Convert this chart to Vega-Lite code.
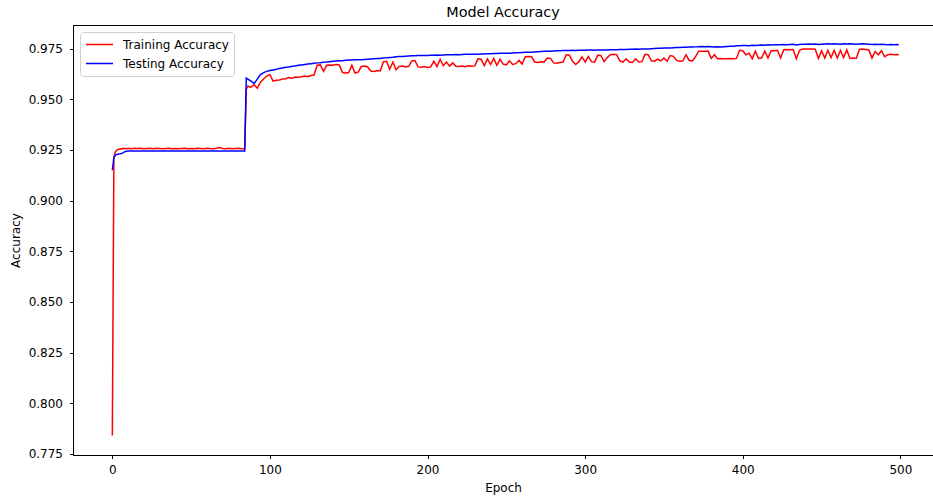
{
  "$schema": "https://vega.github.io/schema/vega-lite/v6.json",
  "autosize": "none",
  "padding": {"left": 73, "top": 25, "right": 0, "bottom": 45},
  "width": 860,
  "height": 430,
  "title": {"text": "Model Accuracy", "fontSize": 14.4, "fontWeight": "normal", "font": "DejaVu Sans", "color": "#000", "offset": 5, "anchor": "middle"},
  "config": {
    "view": {"stroke": "#000", "strokeWidth": 1},
    "font": "DejaVu Sans",
    "axis": {"grid": false, "domainColor": "#000", "tickColor": "#000", "tickSize": 3.5, "labelFontSize": 12, "labelColor": "#000", "titleFontSize": 12, "titleFontWeight": "normal", "titleColor": "#000", "labelFont": "DejaVu Sans", "titleFont": "DejaVu Sans"}
  },
  "data": {"values": [
    {"e":0,"tr":0.784,"te":0.915},{"e":1,"tr":0.9215,"te":0.9212},{"e":2,"tr":0.9242,"te":0.9225},{"e":3,"tr":0.925,"te":0.9228},{"e":4,"tr":0.9253,"te":0.923},{"e":5,"tr":0.9256,"te":0.9231},{"e":6,"tr":0.9255,"te":0.9233},{"e":7,"tr":0.9258,"te":0.9237},{"e":8,"tr":0.9257,"te":0.9242},{"e":9,"tr":0.9256,"te":0.9244},{"e":10,"tr":0.9258,"te":0.9245},
    {"e":12,"tr":0.9256,"te":0.9245},{"e":14,"tr":0.9258,"te":0.9245},{"e":16,"tr":0.9257,"te":0.9245},{"e":18,"tr":0.9259,"te":0.9245},{"e":20,"tr":0.9256,"te":0.9245},{"e":22,"tr":0.9257,"te":0.9245},{"e":24,"tr":0.9258,"te":0.9245},{"e":26,"tr":0.9256,"te":0.9245},{"e":28,"tr":0.9258,"te":0.9245},{"e":30,"tr":0.9257,"te":0.9245},{"e":32,"tr":0.9256,"te":0.9245},{"e":34,"tr":0.9257,"te":0.9245},{"e":36,"tr":0.9258,"te":0.9245},{"e":38,"tr":0.9256,"te":0.9245},{"e":40,"tr":0.9257,"te":0.9245},{"e":42,"tr":0.9256,"te":0.9245},{"e":44,"tr":0.9257,"te":0.9245},{"e":46,"tr":0.9258,"te":0.9245},{"e":48,"tr":0.9256,"te":0.9245},{"e":50,"tr":0.9257,"te":0.9245},{"e":52,"tr":0.9256,"te":0.9245},{"e":54,"tr":0.9258,"te":0.9245},{"e":56,"tr":0.9257,"te":0.9245},{"e":58,"tr":0.9256,"te":0.9245},{"e":60,"tr":0.9259,"te":0.9245},{"e":62,"tr":0.9257,"te":0.9245},{"e":64,"tr":0.9256,"te":0.9245},{"e":66,"tr":0.9258,"te":0.9245},{"e":68,"tr":0.9262,"te":0.9245},{"e":70,"tr":0.9257,"te":0.9245},{"e":72,"tr":0.9256,"te":0.9245},{"e":74,"tr":0.9258,"te":0.9245},{"e":76,"tr":0.9256,"te":0.9245},{"e":78,"tr":0.9257,"te":0.9245},{"e":80,"tr":0.9258,"te":0.9245},{"e":82,"tr":0.9256,"te":0.9245},{"e":84,"tr":0.9257,"te":0.9245},{"e":85,"tr":0.955,"te":0.9605},
    {"e":86,"tr":0.9565,"te":0.96},{"e":88,"tr":0.956,"te":0.959},{"e":90,"tr":0.9572,"te":0.9578},{"e":92,"tr":0.9555,"te":0.96},{"e":94,"tr":0.9585,"te":0.9622},{"e":96,"tr":0.96,"te":0.9632},{"e":98,"tr":0.9615,"te":0.9638},{"e":100,"tr":0.9622,"te":0.9642},
    {"e":102,"tr":0.959,"te":0.9645},{"e":104,"tr":0.9594,"te":0.9648},{"e":106,"tr":0.9596,"te":0.9652},{"e":108,"tr":0.96,"te":0.9655},{"e":110,"tr":0.9602,"te":0.9658},{"e":112,"tr":0.9608,"te":0.966},{"e":114,"tr":0.9604,"te":0.9663},{"e":116,"tr":0.961,"te":0.9665},{"e":118,"tr":0.9609,"te":0.9668},{"e":120,"tr":0.9612,"te":0.967},
    {"e":122,"tr":0.9615,"te":0.9672},{"e":124,"tr":0.9612,"te":0.9674},{"e":126,"tr":0.9618,"te":0.9676},{"e":128,"tr":0.962,"te":0.9678},{"e":130,"tr":0.9668,"te":0.968},{"e":132,"tr":0.967,"te":0.9681},{"e":134,"tr":0.9638,"te":0.9683},{"e":136,"tr":0.9668,"te":0.9684},{"e":138,"tr":0.967,"te":0.9686},{"e":140,"tr":0.9668,"te":0.9688},
    {"e":142,"tr":0.9672,"te":0.9689},{"e":144,"tr":0.967,"te":0.969},{"e":146,"tr":0.9632,"te":0.9691},{"e":148,"tr":0.963,"te":0.9693},{"e":150,"tr":0.9632,"te":0.9694},{"e":152,"tr":0.9668,"te":0.9694},{"e":154,"tr":0.963,"te":0.9695},{"e":156,"tr":0.9634,"te":0.9696},{"e":158,"tr":0.9662,"te":0.9696},{"e":160,"tr":0.9664,"te":0.9697},
    {"e":162,"tr":0.966,"te":0.9698},{"e":164,"tr":0.964,"te":0.9699},{"e":166,"tr":0.9638,"te":0.97},{"e":168,"tr":0.9642,"te":0.9701},{"e":170,"tr":0.964,"te":0.9702},{"e":172,"tr":0.9686,"te":0.9704},{"e":174,"tr":0.9688,"te":0.9705},{"e":176,"tr":0.9648,"te":0.9707},{"e":178,"tr":0.9684,"te":0.9708},{"e":180,"tr":0.9646,"te":0.971},
    {"e":182,"tr":0.9662,"te":0.9711},{"e":184,"tr":0.9664,"te":0.9712},{"e":186,"tr":0.966,"te":0.9713},{"e":188,"tr":0.9663,"te":0.9714},{"e":190,"tr":0.969,"te":0.9715},{"e":192,"tr":0.9692,"te":0.9715},{"e":194,"tr":0.966,"te":0.9716},{"e":196,"tr":0.9658,"te":0.9716},{"e":198,"tr":0.9662,"te":0.9717},{"e":200,"tr":0.9657,"te":0.9717},
    {"e":202,"tr":0.966,"te":0.9718},{"e":204,"tr":0.9688,"te":0.9718},{"e":206,"tr":0.9662,"te":0.9719},{"e":208,"tr":0.9698,"te":0.9718},{"e":210,"tr":0.9666,"te":0.9719},{"e":212,"tr":0.9684,"te":0.972},{"e":214,"tr":0.9664,"te":0.972},{"e":216,"tr":0.968,"te":0.972},{"e":218,"tr":0.9663,"te":0.9721},{"e":220,"tr":0.9662,"te":0.972},
    {"e":222,"tr":0.9664,"te":0.9721},{"e":224,"tr":0.9661,"te":0.9722},{"e":226,"tr":0.9666,"te":0.9722},{"e":228,"tr":0.9663,"te":0.9722},{"e":230,"tr":0.9665,"te":0.9723},{"e":232,"tr":0.97,"te":0.9723},{"e":234,"tr":0.9698,"te":0.9724},{"e":236,"tr":0.9666,"te":0.9724},{"e":238,"tr":0.97,"te":0.9725},{"e":240,"tr":0.9672,"te":0.9725},
    {"e":242,"tr":0.9702,"te":0.9726},{"e":244,"tr":0.9668,"te":0.9726},{"e":246,"tr":0.9698,"te":0.9727},{"e":248,"tr":0.9674,"te":0.9727},{"e":250,"tr":0.967,"te":0.9728},{"e":252,"tr":0.969,"te":0.9728},{"e":254,"tr":0.9672,"te":0.9729},{"e":256,"tr":0.9676,"te":0.973},{"e":258,"tr":0.9692,"te":0.973},{"e":260,"tr":0.9674,"te":0.9731},
    {"e":262,"tr":0.971,"te":0.9732},{"e":264,"tr":0.9712,"te":0.9732},{"e":266,"tr":0.971,"te":0.9733},{"e":268,"tr":0.9684,"te":0.9734},{"e":270,"tr":0.9682,"te":0.9735},{"e":272,"tr":0.9686,"te":0.9736},{"e":274,"tr":0.9684,"te":0.9737},{"e":276,"tr":0.9704,"te":0.9738},{"e":278,"tr":0.9702,"te":0.9738},{"e":280,"tr":0.968,"te":0.9739},
    {"e":282,"tr":0.9678,"te":0.974},{"e":284,"tr":0.9682,"te":0.974},{"e":286,"tr":0.9684,"te":0.9741},{"e":288,"tr":0.972,"te":0.9741},{"e":290,"tr":0.9718,"te":0.9741},{"e":292,"tr":0.9688,"te":0.9742},{"e":294,"tr":0.9672,"te":0.9741},{"e":296,"tr":0.9686,"te":0.9742},{"e":298,"tr":0.971,"te":0.9742},{"e":300,"tr":0.9684,"te":0.9742},
    {"e":302,"tr":0.9712,"te":0.9743},{"e":304,"tr":0.9686,"te":0.9743},{"e":306,"tr":0.9684,"te":0.9742},{"e":308,"tr":0.9718,"te":0.9743},{"e":310,"tr":0.9716,"te":0.9743},{"e":312,"tr":0.9686,"te":0.9744},{"e":314,"tr":0.9706,"te":0.9744},{"e":316,"tr":0.972,"te":0.9745},{"e":318,"tr":0.9722,"te":0.9745},{"e":320,"tr":0.972,"te":0.9745},
    {"e":322,"tr":0.969,"te":0.9746},{"e":324,"tr":0.9684,"te":0.9746},{"e":326,"tr":0.97,"te":0.9746},{"e":328,"tr":0.9684,"te":0.9747},{"e":330,"tr":0.9682,"te":0.9747},{"e":332,"tr":0.97,"te":0.9748},{"e":334,"tr":0.9684,"te":0.9747},{"e":336,"tr":0.9686,"te":0.9748},{"e":338,"tr":0.9722,"te":0.9749},{"e":340,"tr":0.972,"te":0.9749},
    {"e":342,"tr":0.969,"te":0.975},{"e":344,"tr":0.9688,"te":0.9751},{"e":346,"tr":0.9698,"te":0.9752},{"e":348,"tr":0.969,"te":0.9752},{"e":350,"tr":0.9704,"te":0.9753},{"e":352,"tr":0.9688,"te":0.9754},{"e":354,"tr":0.9716,"te":0.9754},{"e":356,"tr":0.9712,"te":0.9755},{"e":358,"tr":0.9692,"te":0.9756},{"e":360,"tr":0.9688,"te":0.9756},
    {"e":362,"tr":0.969,"te":0.9757},{"e":364,"tr":0.972,"te":0.9757},{"e":366,"tr":0.9692,"te":0.9758},{"e":368,"tr":0.969,"te":0.9758},{"e":370,"tr":0.971,"te":0.9759},{"e":372,"tr":0.9738,"te":0.976},{"e":374,"tr":0.9738,"te":0.9761},{"e":376,"tr":0.9737,"te":0.976},{"e":378,"tr":0.9738,"te":0.9761},{"e":380,"tr":0.9702,"te":0.976},
    {"e":382,"tr":0.972,"te":0.9759},{"e":384,"tr":0.97,"te":0.976},{"e":386,"tr":0.9702,"te":0.9758},{"e":388,"tr":0.97,"te":0.976},{"e":390,"tr":0.97,"te":0.9761},{"e":392,"tr":0.9702,"te":0.9762},{"e":394,"tr":0.97,"te":0.9762},{"e":396,"tr":0.9702,"te":0.9764},{"e":398,"tr":0.9742,"te":0.9765},{"e":400,"tr":0.974,"te":0.9766},
    {"e":402,"tr":0.972,"te":0.9766},{"e":404,"tr":0.9728,"te":0.9765},{"e":406,"tr":0.97,"te":0.9767},{"e":408,"tr":0.9738,"te":0.9766},{"e":410,"tr":0.9702,"te":0.9767},{"e":412,"tr":0.9704,"te":0.9768},{"e":414,"tr":0.9738,"te":0.9767},{"e":416,"tr":0.9704,"te":0.9769},{"e":418,"tr":0.974,"te":0.9768},{"e":420,"tr":0.974,"te":0.9769},
    {"e":422,"tr":0.9742,"te":0.977},{"e":424,"tr":0.9704,"te":0.977},{"e":426,"tr":0.9745,"te":0.9771},{"e":428,"tr":0.9746,"te":0.977},{"e":430,"tr":0.9745,"te":0.9771},{"e":432,"tr":0.9746,"te":0.9772},{"e":434,"tr":0.97,"te":0.9768},{"e":436,"tr":0.9742,"te":0.9771},{"e":438,"tr":0.9748,"te":0.9772},{"e":440,"tr":0.9748,"te":0.9772},
    {"e":442,"tr":0.9749,"te":0.9773},{"e":444,"tr":0.9748,"te":0.9772},{"e":446,"tr":0.9747,"te":0.9773},{"e":448,"tr":0.9702,"te":0.9771},{"e":450,"tr":0.974,"te":0.9772},{"e":452,"tr":0.9704,"te":0.9773},{"e":454,"tr":0.9742,"te":0.9774},{"e":456,"tr":0.9706,"te":0.9773},{"e":458,"tr":0.9742,"te":0.9774},{"e":460,"tr":0.9704,"te":0.9773},
    {"e":462,"tr":0.9742,"te":0.9772},{"e":464,"tr":0.9706,"te":0.9774},{"e":466,"tr":0.9744,"te":0.9773},{"e":468,"tr":0.9702,"te":0.9774},{"e":470,"tr":0.9704,"te":0.9773},{"e":472,"tr":0.9702,"te":0.9772},{"e":474,"tr":0.9746,"te":0.9773},{"e":476,"tr":0.9748,"te":0.9774},{"e":478,"tr":0.9746,"te":0.9773},{"e":480,"tr":0.9744,"te":0.9772},
    {"e":482,"tr":0.9704,"te":0.9771},{"e":484,"tr":0.9736,"te":0.9772},{"e":486,"tr":0.972,"te":0.9771},{"e":488,"tr":0.974,"te":0.9772},{"e":490,"tr":0.971,"te":0.9771},{"e":492,"tr":0.972,"te":0.977},{"e":494,"tr":0.9722,"te":0.9771},{"e":496,"tr":0.972,"te":0.977},{"e":498,"tr":0.9721,"te":0.9771},{"e":499,"tr":0.972,"te":0.977}
  ]},
  "transform": [{"fold": ["tr", "te"], "as": ["s", "v"]}],
  "mark": {"type": "line", "strokeWidth": 1.5, "interpolate": "linear"},
  "encoding": {
    "x": {"field": "e", "type": "quantitative", "title": "Epoch",
      "scale": {"domain": [-24.95, 520.7], "nice": false, "zero": false},
      "axis": {"values": [0, 100, 200, 300, 400, 500], "format": "d", "labelPadding": 6, "titlePadding": 7}},
    "y": {"field": "v", "type": "quantitative", "title": "Accuracy",
      "scale": {"domain": [0.7744, 0.9867], "nice": false, "zero": false},
      "axis": {"values": [0.775, 0.8, 0.825, 0.85, 0.875, 0.9, 0.925, 0.95, 0.975], "format": ".3f", "labelPadding": 7, "titlePadding": 6}},
    "color": {"field": "s", "type": "nominal", "sort": ["tr", "te"],
      "scale": {"domain": ["tr", "te"], "range": ["#ff0000", "#0000ff"]},
      "legend": {"title": null, "orient": "none", "legendX": 7, "legendY": 7,
        "labelExpr": "datum.label == 'tr' ? 'Training Accuracy' : 'Testing Accuracy'",
        "symbolType": "stroke", "symbolSize": 729, "symbolStrokeWidth": 1.5,
        "labelFontSize": 12, "labelColor": "#000", "labelFont": "DejaVu Sans", "labelOffset": 9,
        "clipHeight": 15, "rowPadding": 4, "padding": 5,
        "strokeColor": "#d0d0d0", "fillColor": "#ffffff", "cornerRadius": 3}}
  }
}
